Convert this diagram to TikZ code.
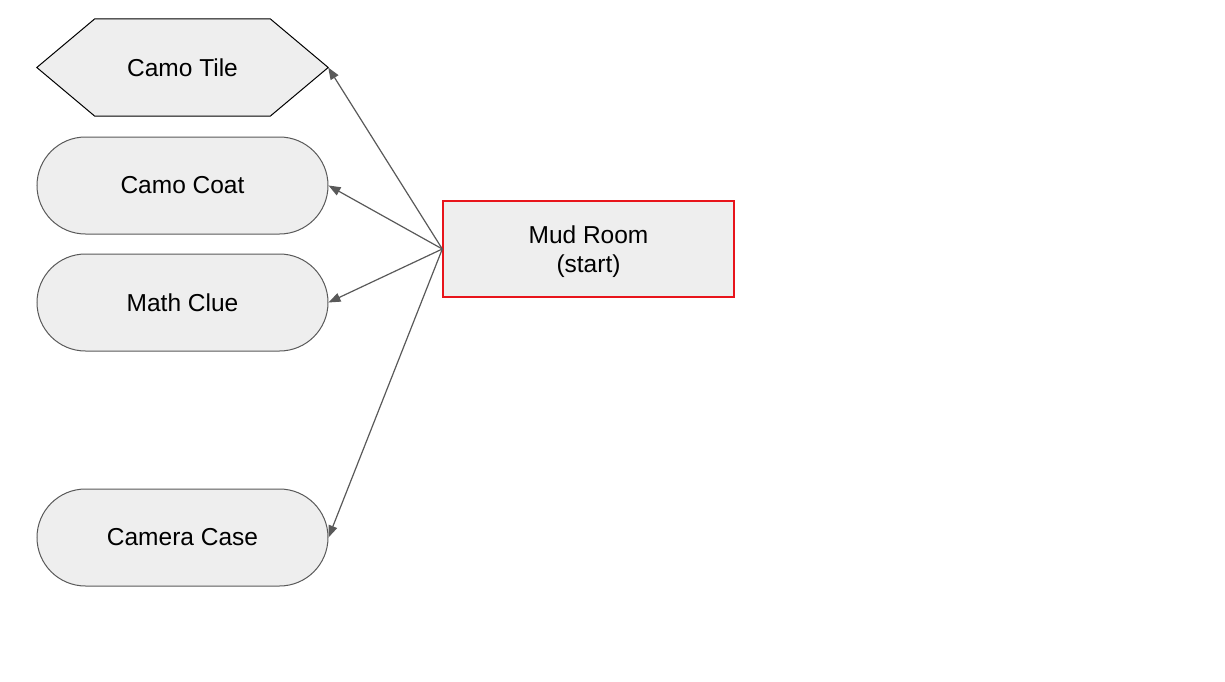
\documentclass[tikz,border=0pt]{standalone}
\usepackage{fontspec}
\setmainfont{Liberation Sans}
\usetikzlibrary{arrows.meta}
\definecolor{boxgray}{HTML}{EEEEEE}
\definecolor{linegray}{HTML}{595959}
\definecolor{startred}{HTML}{E8141B}
\begin{document}
\begin{tikzpicture}[x=1pt,y=-1pt,
  every node/.style={font=\fontsize{24.5}{29}\selectfont,align=center},
  item/.style={draw=linegray,fill=boxgray,line width=1pt,rounded corners=48.5pt,minimum width=291pt,minimum height=97pt},
  room/.style={draw=startred,fill=boxgray,line width=1.4pt,minimum width=291pt,minimum height=96pt},
  link/.style={draw=linegray,line width=1.2pt,-{Triangle[length=12pt,width=9pt]}}]
\useasboundingbox (0,0) rectangle (1225,682);
\def\w{291} \def\h{97} \def\cut{58}
% hexagon for the tile
\node[minimum width=\w pt,minimum height=\h pt] (tile) at (182.5,67.5) {};
\draw[fill=boxgray,line width=1pt] (tile.west) -- ([xshift=\cut pt]tile.north west) -- ([xshift=-\cut pt]tile.north east)
  -- (tile.east) -- ([xshift=-\cut pt]tile.south east) -- ([xshift=\cut pt]tile.south west) -- cycle;
\node at (tile) {Camo Tile};
\node[item] (coat) at (182.5,185.5) {Camo Coat};
\node[item] (clue) at (182.5,302.5) {Math Clue};
\node[item] (case) at (182.5,537.5) {Camera Case};
\node[room] (mud) at (588.5,249) {};
\node at ([yshift=-3pt]mud.center) {Mud Room\\(start)};
\foreach \t in {tile,coat,clue,case}
  \draw[link] (mud.west) -- (\t.east);
\end{tikzpicture}
\end{document}
